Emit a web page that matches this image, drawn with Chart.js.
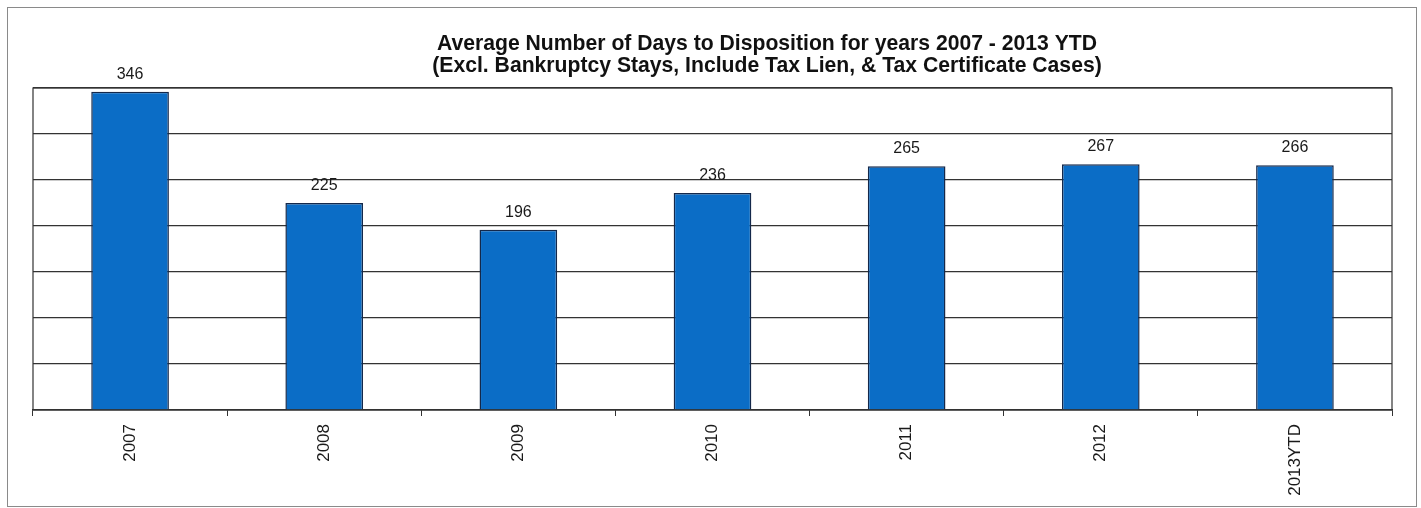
<!DOCTYPE html>
<html>
<head>
<meta charset="utf-8">
<script src="https://cdn.jsdelivr.net/npm/chart.js@4/dist/chart.umd.min.js"></script>
<style>
  html, body { margin: 0; padding: 0; background: #fff; }
  #wrap { width: 1421px; height: 508px; position: relative; }
</style>
</head>
<body>
<div id="wrap"><canvas id="chart" width="1421" height="508"></canvas></div>
<script>
// ── Data ───────────────────────────────────────────────
const years = ['2007', '2008', '2009', '2010', '2011', '2012', '2013YTD'];
const avgDays = [346, 225, 196, 236, 265, 267, 266];
const titleLines = [
    'Average Number of Days to Disposition for years 2007 - 2013 YTD',
    '(Excl. Bankruptcy Stays, Include Tax Lien, & Tax Certificate Cases)'
];

const BAR_BLUE = '#0b6dc6';
const INK = '#1a1a1a';
const FONT = '"Liberation Sans", Arial, sans-serif';

// ── Plugins ────────────────────────────────────────────
const framePlugin = {
    id: 'frame',
    beforeDraw(chart) {
        const ctx = chart.ctx;
        ctx.save();
        ctx.fillStyle = '#fff';
        ctx.fillRect(0, 0, chart.width, chart.height);
        ctx.strokeStyle = '#8a8a8a';
        ctx.lineWidth = 1;
        ctx.strokeRect(7.5, 7.5, 1409, 499);
        ctx.restore();
    },
    afterDraw(chart) {
        const { ctx, chartArea: a } = chart;
        ctx.save();
        ctx.strokeStyle = '#333';
        ctx.lineWidth = 1.2;
        ctx.strokeRect(a.left, a.top, a.right - a.left, a.bottom - a.top);

        // title: narrow bold look, a bit right of centre as in the original
        ctx.fillStyle = '#111';
        ctx.font = 'bold 22px ' + FONT;
        ctx.textAlign = 'center';
        ctx.textBaseline = 'alphabetic';
        const sx = 660 / ctx.measureText(titleLines[0]).width;
        ctx.translate(767, 0);
        ctx.scale(sx, 1);
        ctx.fillText(titleLines[0], 0, 50);
        ctx.fillText(titleLines[1], 0, 72);
        ctx.restore();
    }
};

const valueLabels = {
    id: 'valueLabels',
    afterDatasetsDraw(chart) {
        const ctx = chart.ctx;
        const meta = chart.getDatasetMeta(0);
        ctx.save();
        ctx.fillStyle = INK;
        ctx.font = '16px ' + FONT;
        ctx.textAlign = 'center';
        ctx.textBaseline = 'alphabetic';
        meta.data.forEach((bar, i) => {
            ctx.fillText(avgDays[i], bar.x, bar.y - 13);
        });
        ctx.restore();
    }
};

// ── Chart ──────────────────────────────────────────────
new Chart(document.getElementById('chart'), {
    type: 'bar',
    data: {
        labels: years,
        datasets: [{
            data: avgDays,
            backgroundColor: BAR_BLUE,
            borderColor: '#14284a',
            borderWidth: 1.5,
            categoryPercentage: 0.8,
            barPercentage: 0.5
        }]
    },
    options: {
        responsive: false,
        animation: false,
        layout: { padding: { top: 88, right: 29, bottom: 0, left: 0 } },
        plugins: {
            legend: { display: false },
            title: { display: false },
            tooltip: { enabled: false }
        },
        scales: {
            x: {
                grid: {
                    offset: true,
                    drawOnChartArea: false,
                    color: '#333',
                    tickLength: 6
                },
                border: { color: '#333', width: 1.2 },
                ticks: {
                    color: INK,
                    font: { family: FONT, size: 17 },
                    minRotation: 90,
                    maxRotation: 90,
                    padding: 8
                },
                afterFit: s => { s.height = 98; }
            },
            y: {
                min: 0,
                max: 350,
                ticks: { display: false, stepSize: 50 },
                grid: { color: '#333', lineWidth: 1.2, drawTicks: false },
                border: { display: false },
                afterFit: s => { s.width = 33; }
            }
        }
    },
    plugins: [framePlugin, valueLabels]
});
</script>
</body>
</html>
